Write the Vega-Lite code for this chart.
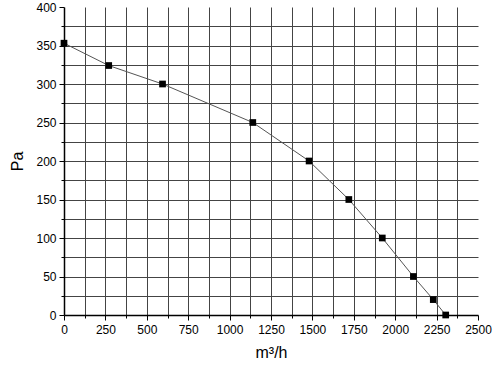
{
  "$schema": "https://vega.github.io/schema/vega-lite/v6.json",
  "autosize": "none",
  "width": 414,
  "height": 308,
  "padding": {"left": 64, "top": 7, "right": 22, "bottom": 57},
  "background": "white",
  "config": {
    "view": {"stroke": null},
    "font": "Liberation Sans",
    "axis": {
      "domainColor": "black",
      "domainWidth": 1.5,
      "tickColor": "black",
      "tickWidth": 1,
      "gridColor": "#444444",
      "gridWidth": 1,
      "gridOpacity": 1,
      "labelColor": "black",
      "titleColor": "black",
      "labelFont": "Liberation Sans",
      "titleFont": "Liberation Sans",
      "labelFontSize": 12,
      "titleFontSize": 16,
      "titleFontWeight": "normal",
      "labelOverlap": false,
      "labelFlush": false
    }
  },
  "data": {
    "values": [
      {"flow": 0, "pressure": 353},
      {"flow": 270, "pressure": 324},
      {"flow": 595, "pressure": 300},
      {"flow": 1140, "pressure": 250},
      {"flow": 1480, "pressure": 200},
      {"flow": 1720, "pressure": 150},
      {"flow": 1922, "pressure": 100},
      {"flow": 2110, "pressure": 50},
      {"flow": 2230, "pressure": 20},
      {"flow": 2305, "pressure": 0}
    ]
  },
  "encoding": {
    "x": {
      "field": "flow",
      "type": "quantitative",
      "scale": {"domain": [0, 2500], "nice": false},
      "axis": {
        "title": "m³/h",
        "values": [0,125,250,375,500,625,750,875,1000,1125,1250,1375,1500,1625,1750,1875,2000,2125,2250,2375,2500],
        "labelExpr": "datum.value % 250 == 0 ? datum.label : ''",
        "format": "d",
        "tickSize": {"condition": {"test": "datum.value % 250 != 0", "value": 3}, "value": 5},
        "gridOpacity": {"condition": {"test": "datum.value == 2500 || datum.value == 0", "value": 0}, "value": 1},
        "labelPadding": 4,
        "titlePadding": 9
      }
    },
    "y": {
      "field": "pressure",
      "type": "quantitative",
      "scale": {"domain": [0, 400], "nice": false},
      "axis": {
        "title": "Pa",
        "values": [0,25,50,75,100,125,150,175,200,225,250,275,300,325,350,375,400],
        "labelExpr": "datum.value % 50 == 0 ? datum.label : ''",
        "tickSize": {"condition": {"test": "datum.value % 50 != 0", "value": 3}, "value": 5},
        "gridOpacity": {"condition": {"test": "datum.value == 400 || datum.value == 0", "value": 0}, "value": 1},
        "labelPadding": 3,
        "titlePadding": 10
      }
    }
  },
  "layer": [
    {"mark": {"type": "line", "interpolate": "linear", "color": "#555555", "strokeWidth": 1}},
    {"mark": {"type": "point", "shape": "square", "filled": true, "color": "black", "opacity": 1, "size": 45}}
  ]
}
